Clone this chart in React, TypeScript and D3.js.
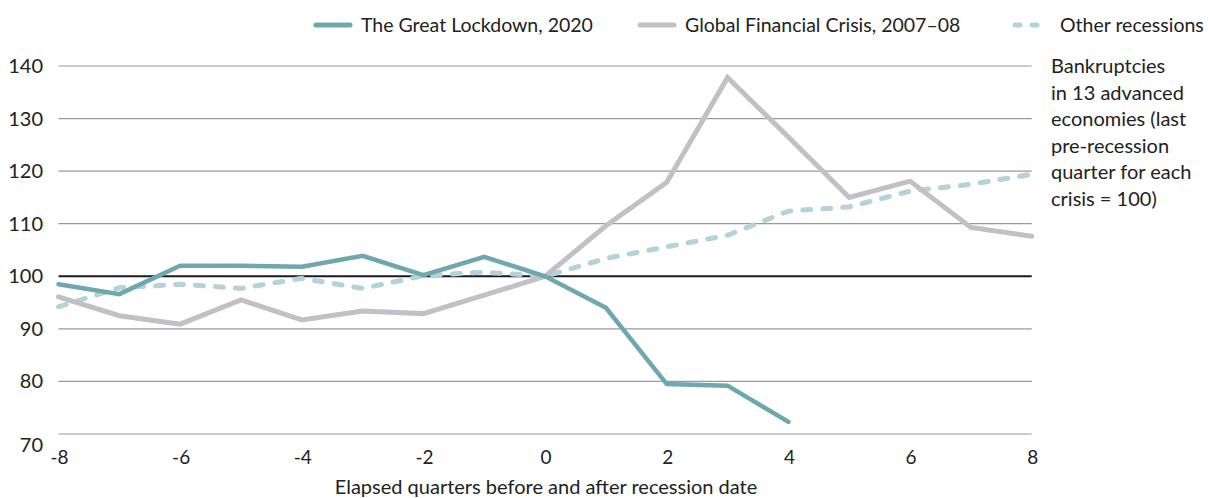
import React, { useRef, useEffect } from "react";
import * as d3 from "d3";

const quarters = [-8, -7, -6, -5, -4, -3, -2, -1, 0, 1, 2, 3, 4, 5, 6, 7, 8];
const lockdown2020 = [98.5, 96.6, 102, 102, 101.8, 103.9, 100.2, 103.7, 100, 94.0, 79.5, 79.2, 72.3];
const gfc2007 = [96.1, 92.5, 90.9, 95.5, 91.7, 93.4, 92.9, 96.4, 100, 109.6, 117.9, 137.8, 126.5, 115.0, 118.1, 109.3, 107.6];
const otherRecessions = [94.2, 97.8, 98.5, 97.7, 99.6, 97.7, 100.1, 100.8, 100, 103.4, 105.6, 107.8, 112.4, 113.2, 116.2, 117.5, 119.4];
const yTicks = [70, 80, 90, 100, 110, 120, 130, 140];
const xTicks = [-8, -6, -4, -2, 0, 2, 4, 6, 8];
const noteLines = [
  "Bankruptcies",
  "in 13 advanced",
  "economies (last",
  "pre-recession",
  "quarter for each",
  "crisis = 100)",
];

const FONT = "Lato, 'Noto Sans', sans-serif";
const TEAL = "#6fa7ae";
const GREY = "#c1c1c5";
const LIGHT = "#b4d2d9";

const App = () => {
  const svgRef = useRef<SVGSVGElement>(null);

  useEffect(() => {
    const svg = d3.select(svgRef.current);
    svg.selectAll("*").remove();

    const width = 1208;
    const height = 498;

    svg.attr("width", width).attr("height", height)
      .style("display", "block")
      .style("position", "absolute")
      .style("top", "0px")
      .style("left", "0px");

    const x = d3.scaleLinear().domain([-8, 8]).range([58.5, 1031.7]);
    const y = d3.scaleLinear().domain([70, 140]).range([434, 66]);

    // gridlines
    svg.append("g")
      .selectAll("line")
      .data(yTicks.filter(d => d !== 100))
      .enter()
      .append("line")
      .attr("x1", x(-8))
      .attr("x2", x(8))
      .attr("y1", d => y(d))
      .attr("y2", d => y(d))
      .attr("stroke", "#9a9a9a")
      .attr("stroke-width", 1.2);

    svg.append("line")
      .attr("x1", x(-8))
      .attr("x2", x(8))
      .attr("y1", y(100))
      .attr("y2", y(100))
      .attr("stroke", "#1a1a1a")
      .attr("stroke-width", 2);

    // y labels
    svg.append("g")
      .selectAll("text")
      .data(yTicks)
      .enter()
      .append("text")
      .attr("x", 43)
      .attr("y", d => y(d) + (d === 70 ? 11 : 0))
      .attr("dy", "0.35em")
      .attr("text-anchor", "end")
      .style("font-family", FONT)
      .style("font-size", "20px")
      .attr("fill", "#222")
      .text(d => d);

    // x labels
    svg.append("g")
      .selectAll("text")
      .data(xTicks)
      .enter()
      .append("text")
      .attr("x", d => x(d) + 1)
      .attr("y", 457)
      .attr("dy", "0.35em")
      .attr("text-anchor", "middle")
      .style("font-family", FONT)
      .style("font-size", "19px")
      .attr("fill", "#222")
      .text(d => d);

    svg.append("text")
      .attr("x", 546)
      .attr("y", 487)
      .attr("dy", "0.35em")
      .attr("text-anchor", "middle")
      .style("font-family", FONT)
      .style("font-size", "20px")
      .attr("fill", "#222")
      .text("Elapsed quarters before and after recession date");

    const line = d3.line<number>()
      .x((_, i) => x(quarters[i]))
      .y(d => y(d));

    svg.append("path")
      .datum(otherRecessions)
      .attr("d", line)
      .attr("fill", "none")
      .attr("stroke", LIGHT)
      .attr("stroke-width", 5)
      .attr("stroke-linecap", "round")
      .attr("stroke-dasharray", "8,12");

    svg.append("path")
      .datum(gfc2007)
      .attr("d", line)
      .attr("fill", "none")
      .attr("stroke", GREY)
      .attr("stroke-width", 5)
      .attr("stroke-linecap", "round");

    svg.append("path")
      .datum(lockdown2020)
      .attr("d", line)
      .attr("fill", "none")
      .attr("stroke", TEAL)
      .attr("stroke-width", 4.5)
      .attr("stroke-linecap", "round");

    // legend
    const legend = [
      { label: "The Great Lockdown, 2020", color: TEAL, dash: null, x0: 316 },
      { label: "Global Financial Crisis, 2007–08", color: GREY, dash: null, x0: 640 },
      { label: "Other recessions", color: LIGHT, dash: "5,12", x0: 1015 },
    ];
    const lg = svg.append("g");
    legend.forEach(l => {
      lg.append("line")
        .attr("x1", l.x0)
        .attr("x2", l.x0 + 34)
        .attr("y1", 25)
        .attr("y2", 25)
        .attr("stroke", l.color)
        .attr("stroke-width", 5)
        .attr("stroke-linecap", "round")
        .attr("stroke-dasharray", l.dash);
      lg.append("text")
        .attr("x", l.x0 + 45)
        .attr("y", 25)
        .attr("dy", "0.35em")
        .style("font-family", FONT)
        .style("font-size", "19.5px")
        .attr("fill", "#222")
        .text(l.label);
    });

    // note
    svg.append("g")
      .selectAll("text")
      .data(noteLines)
      .enter()
      .append("text")
      .attr("x", 1051)
      .attr("y", (_, i) => 66 + i * 26.6)
      .attr("dy", "0.35em")
      .style("font-family", FONT)
      .style("font-size", "20px")
      .attr("fill", "#222")
      .text(d => d);
  }, []);

  return <svg ref={svgRef}></svg>;
};

export default App;
